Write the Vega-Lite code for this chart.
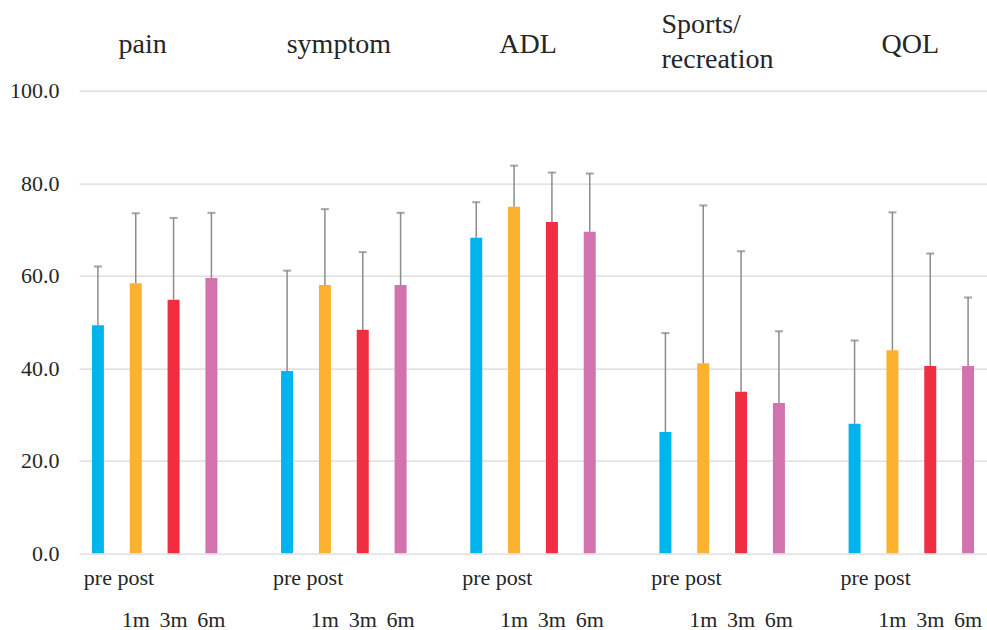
{
  "$schema": "https://vega.github.io/schema/vega-lite/v6.json",
  "width": 908,
  "height": 462.6,
  "autosize": {"type": "none"},
  "padding": {"left": 79, "top": 90.7, "right": 0, "bottom": 76.7},
  "background": "white",
  "config": {
    "view": {"stroke": null},
    "font": "Times New Roman, Liberation Serif, serif",
    "text": {"font": "Times New Roman, Liberation Serif, serif"},
    "axis": {"labelFont": "Times New Roman, Liberation Serif, serif"}
  },
  "datasets": {
    "scores": [
      {"scale": "pain", "time": "pre", "mean": 49.3, "upper": 62.0},
      {"scale": "pain", "time": "1m", "mean": 58.4, "upper": 73.5},
      {"scale": "pain", "time": "3m", "mean": 54.8, "upper": 72.5},
      {"scale": "pain", "time": "6m", "mean": 59.5, "upper": 73.6},
      {"scale": "symptom", "time": "pre", "mean": 39.4, "upper": 61.1},
      {"scale": "symptom", "time": "1m", "mean": 58.0, "upper": 74.4},
      {"scale": "symptom", "time": "3m", "mean": 48.3, "upper": 65.1},
      {"scale": "symptom", "time": "6m", "mean": 58.0, "upper": 73.6},
      {"scale": "ADL", "time": "pre", "mean": 68.2, "upper": 75.9},
      {"scale": "ADL", "time": "1m", "mean": 74.9, "upper": 83.8},
      {"scale": "ADL", "time": "3m", "mean": 71.6, "upper": 82.3},
      {"scale": "ADL", "time": "6m", "mean": 69.5, "upper": 82.1},
      {"scale": "Sports", "time": "pre", "mean": 26.2, "upper": 47.6},
      {"scale": "Sports", "time": "1m", "mean": 41.1, "upper": 75.2},
      {"scale": "Sports", "time": "3m", "mean": 34.9, "upper": 65.3},
      {"scale": "Sports", "time": "6m", "mean": 32.5, "upper": 48.0},
      {"scale": "QOL", "time": "pre", "mean": 28.0, "upper": 46.0},
      {"scale": "QOL", "time": "1m", "mean": 43.9, "upper": 73.7},
      {"scale": "QOL", "time": "3m", "mean": 40.5, "upper": 64.8},
      {"scale": "QOL", "time": "6m", "mean": 40.5, "upper": 55.3}
    ],
    "titles": [
      {"scale": "pain", "title": "pain"},
      {"scale": "symptom", "title": "symptom"},
      {"scale": "ADL", "title": "ADL"},
      {"scale": "Sports", "title": "Sports/\nrecreation"},
      {"scale": "QOL", "title": "QOL"}
    ]
  },
  "layer": [
    {
      "data": {"name": "scores"},
      "transform": [{"calculate": "datum.scale + '|' + datum.time", "as": "slot"}],
      "encoding": {
        "x": {
          "field": "slot", "type": "nominal",
          "scale": {"domain": ["pain|pre","pain|1m","pain|3m","pain|6m","pain|gap","symptom|pre","symptom|1m","symptom|3m","symptom|6m","symptom|gap","ADL|pre","ADL|1m","ADL|3m","ADL|6m","ADL|gap","Sports|pre","Sports|1m","Sports|3m","Sports|6m","Sports|gap","QOL|pre","QOL|1m","QOL|3m","QOL|6m"], "paddingInner": 0, "paddingOuter": 0},
          "axis": {"title": null, "domain": false, "ticks": false, "grid": false, "labelAngle": 0, "labelFont": "Times New Roman, Liberation Serif, serif", "labelFontSize": 22, "labelColor": "#262626", "labelPadding": 14, "labelLineHeight": 42, "labelOverlap": false, "labelBaseline": "top", "labelLimit": 300,
            "labelExpr": "indexof(datum.value,'|pre')>=0 ? 'pre' : indexof(datum.value,'|1m')>=0 ? ['post','1m'] : indexof(datum.value,'|3m')>=0 ? [' ','3m'] : indexof(datum.value,'|6m')>=0 ? [' ','6m'] : ''"}
        },
        "y": {
          "type": "quantitative",
          "scale": {"domain": [0, 100], "nice": false},
          "axis": {"title": null, "values": [0, 20, 40, 60, 80, 100], "format": ".1f", "domain": false, "ticks": false, "labelFont": "Times New Roman, Liberation Serif, serif", "labelFontSize": 22, "labelColor": "#262626", "labelPadding": 20, "gridColor": "#D9D9D9", "gridWidth": 1.3}
        }
      },
      "layer": [
        {
          "mark": {"type": "bar", "width": 12},
          "encoding": {
            "y": {"field": "mean", "type": "quantitative"},
            "color": {"field": "time", "type": "nominal", "scale": {"domain": ["pre", "1m", "3m", "6m"], "range": ["#00B5EE", "#FCB12F", "#EF2F41", "#D272AE"]}, "legend": null}
          }
        },
        {
          "mark": {"type": "rule", "color": "#8C8C8C", "strokeWidth": 1.5},
          "encoding": {
            "y": {"field": "mean", "type": "quantitative"},
            "y2": {"field": "upper"}
          }
        },
        {
          "mark": {"type": "tick", "color": "#7F7F7F", "thickness": 2, "size": 8},
          "encoding": {
            "y": {"field": "upper", "type": "quantitative"}
          }
        }
      ]
    },
    {
      "data": {"name": "titles"},
      "transform": [
        {"filter": "datum.scale == 'symptom' || datum.scale == 'ADL'"},
        {"calculate": "datum.scale + '|1m'", "as": "slot"}
      ],
      "mark": {"type": "text", "font": "Times New Roman, Liberation Serif, serif", "fontSize": 28, "color": "#262626", "align": "center", "baseline": "alphabetic", "dx": -5},
      "encoding": {
        "x": {"field": "slot", "type": "nominal", "bandPosition": 1},
        "y": {"datum": 108.15, "type": "quantitative"},
        "text": {"field": "title"}
      }
    },
    {
      "data": {"name": "titles"},
      "transform": [
        {"filter": "datum.scale == 'pain'"},
        {"calculate": "datum.scale + '|1m'", "as": "slot"}
      ],
      "mark": {"type": "text", "font": "Times New Roman, Liberation Serif, serif", "fontSize": 28, "color": "#262626", "align": "center", "baseline": "alphabetic", "dx": -12},
      "encoding": {
        "x": {"field": "slot", "type": "nominal", "bandPosition": 1},
        "y": {"datum": 108.15, "type": "quantitative"},
        "text": {"field": "title"}
      }
    },
    {
      "data": {"name": "titles"},
      "transform": [
        {"filter": "datum.scale == 'QOL'"},
        {"calculate": "datum.scale + '|1m'", "as": "slot"}
      ],
      "mark": {"type": "text", "font": "Times New Roman, Liberation Serif, serif", "fontSize": 28, "color": "#262626", "align": "center", "baseline": "alphabetic", "dx": -1},
      "encoding": {
        "x": {"field": "slot", "type": "nominal", "bandPosition": 1},
        "y": {"datum": 108.15, "type": "quantitative"},
        "text": {"field": "title"}
      }
    },
    {
      "data": {"name": "titles"},
      "transform": [
        {"filter": "datum.scale == 'Sports'"},
        {"calculate": "datum.scale + '|pre'", "as": "slot"}
      ],
      "mark": {"type": "text", "font": "Times New Roman, Liberation Serif, serif", "fontSize": 28, "color": "#262626", "align": "left", "baseline": "alphabetic", "dx": 15, "lineBreak": "\n", "lineHeight": 35},
      "encoding": {
        "x": {"field": "slot", "type": "nominal", "bandPosition": 0},
        "y": {"datum": 112.47, "type": "quantitative"},
        "text": {"field": "title"}
      }
    }
  ]
}
